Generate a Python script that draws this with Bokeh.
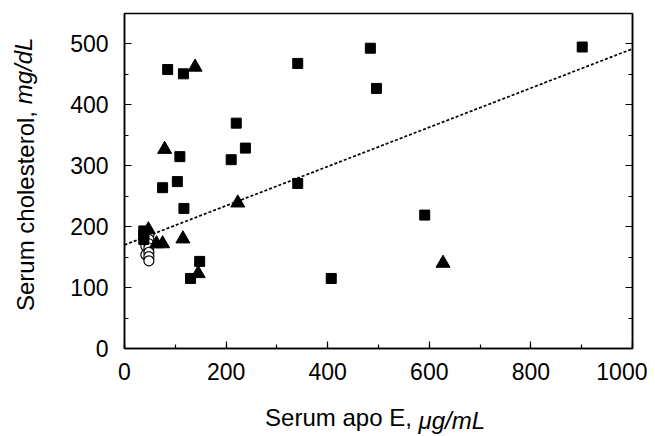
from bokeh.plotting import figure
from bokeh.models import (Range1d, LinearAxis, SingleIntervalTicker, FixedTicker,
                          CustomJSTickFormatter)
from bokeh.embed import file_html
from bokeh.resources import INLINE

# ---- data ----
sq_x = [85, 116, 220, 109, 210, 238, 75, 104, 117, 341, 341, 484, 496, 901, 591, 407, 148, 130, 38, 38, 38]
sq_y = [458, 451, 370, 315, 310, 329, 264, 274, 230, 468, 271, 493, 427, 495, 219, 115, 143, 115, 193, 186, 179]

tri_x = [139, 79, 223, 47, 63, 75, 115, 145, 627]
tri_y = [462, 327, 239, 195, 172, 172, 180, 123, 140]

circ_x = [42, 42, 42, 48, 48, 48, 48, 48, 48, 48]
circ_y = [182, 168, 154, 186, 179, 172, 165, 158, 151, 144]

fit_intercept = 170
fit_slope = 0.322
fit_x = [0, 1000]
fit_y = [fit_intercept + fit_slope * v for v in fit_x]

x_title = "Serum apo E,"
x_title_unit = "\u03bcg/mL"
y_title = "Serum cholesterol,"
y_title_unit = "mg/dL"

FONT = "Liberation Sans"
NB = "\u00a0"

p = figure(width=647, height=436, output_backend="svg", toolbar_location=None,
           x_range=Range1d(0, 1000), y_range=Range1d(0, 550),
           min_border_left=124, min_border_right=15, min_border_top=13, min_border_bottom=88)
p.xgrid.visible = False
p.ygrid.visible = False
p.outline_line_color = "black"
p.outline_line_width = 1.5
p.background_fill_color = "white"
p.border_fill_color = "white"

p.xaxis.ticker = SingleIntervalTicker(interval=200, num_minor_ticks=2)
p.yaxis.ticker = SingleIntervalTicker(interval=100, num_minor_ticks=2)
for ax in (p.xaxis[0], p.yaxis[0]):
    ax.major_tick_in = 7
    ax.major_tick_out = 0
    ax.minor_tick_in = 4
    ax.minor_tick_out = 0
    ax.major_tick_line_width = 1.2
    ax.minor_tick_line_width = 1.2
    ax.axis_line_width = 1.5
    ax.major_label_text_font = FONT
    ax.major_label_text_font_size = "23px"
    ax.major_label_text_color = "black"
    ax.axis_label_text_font = FONT
    ax.axis_label_text_font_size = "24px"
    ax.axis_label_text_font_style = "normal"
    ax.axis_label_text_color = "black"
p.xaxis.major_label_standoff = 14
p.yaxis.major_label_standoff = 16

# regular parts of the titles on the main axes (NBSP padding shifts them off-centre)
p.xaxis.axis_label = x_title + NB * 12
p.xaxis.axis_label_standoff = 21
p.yaxis.axis_label = y_title + NB * 9
p.yaxis.axis_label_standoff = 28

# italic parts on tick-less companion axes, pulled back onto the same row
def unit_axis(text, standoff):
    return LinearAxis(ticker=FixedTicker(ticks=[]), axis_line_color=None,
                      major_tick_line_color=None, minor_tick_line_color=None,
                      major_label_standoff=0, axis_label=text,
                      axis_label_standoff=standoff, axis_label_text_font=FONT,
                      axis_label_text_font_size="24px", axis_label_text_font_style="italic",
                      axis_label_text_color="black")

p.add_layout(unit_axis(NB * 22 + x_title_unit, -27), "below")
p.add_layout(unit_axis(NB * 33 + y_title_unit, -27), "left")

rax = LinearAxis(ticker=SingleIntervalTicker(interval=100, num_minor_ticks=2),
                 formatter=CustomJSTickFormatter(code="return ''"),
                 major_tick_in=7, major_tick_out=0, minor_tick_in=4, minor_tick_out=0,
                 major_tick_line_width=1.2, minor_tick_line_width=1.2,
                 major_label_standoff=0, axis_line_width=1.5)
p.add_layout(rax, "right")

p.line(fit_x, fit_y, line_color="black", line_width=1.7, line_dash="3 2")

p.scatter(circ_x, circ_y, marker="circle", size=10, fill_color="white", line_color="black", line_width=1.2)
p.scatter(sq_x, sq_y, marker="square", size=10, fill_color="black", line_color="black")
p.scatter(tri_x, tri_y, marker="triangle", size=14, fill_color="black", line_color="black")

open("out.html", "w").write(file_html(p, INLINE))
